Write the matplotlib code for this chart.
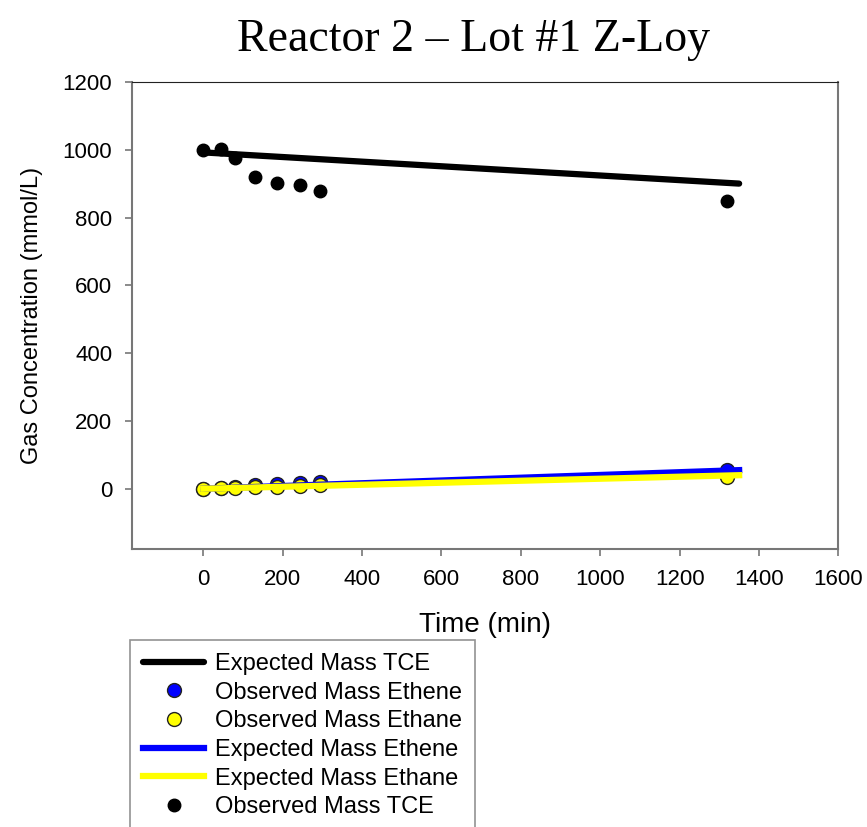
import numpy as np
import matplotlib.pyplot as plt

plt.rcParams['font.family'] = ['Liberation Sans', 'DejaVu Sans']

# Observed gas concentrations (mmol/L) vs time (min)
t_obs = [0, 45, 80, 130, 185, 245, 295, 1320]
tce_obs = [1000, 1003, 975, 920, 903, 895, 878, 848]
ethene_obs = [0, 3, 6, 10, 14, 17, 20, 55]
ethane_obs = [0, 1, 2, 4, 6, 8, 10, 35]

# Expected mass lines (start and end points)
t_exp = [0, 1350]
tce_exp = [992, 900]
ethene_exp = [0, 55]
ethane_exp = [0, 40]

fig = plt.figure(figsize=(8.67, 8.27), dpi=100)
ax = fig.add_axes([0.152, 0.336, 0.815, 0.565])

l1, = ax.plot(t_exp, tce_exp, color='black', lw=4.5, solid_capstyle='round')
s2, = ax.plot(t_obs, ethene_obs, 'o', ms=10, mfc='blue', mec='#222222', mew=1, ls='none')
s3, = ax.plot(t_obs, ethane_obs, 'o', ms=10, mfc='yellow', mec='#222222', mew=1, ls='none')
l4, = ax.plot(t_exp, ethene_exp, color='blue', lw=4.5)
l5, = ax.plot(t_exp, ethane_exp, color='yellow', lw=4.5)
s6, = ax.plot(t_obs, tce_obs, 'o', ms=9, color='black', ls='none')

ax.set_xlim(-180, 1600)
ax.set_ylim(-178, 1200)
ax.set_xticks(np.arange(0, 1601, 200))
ax.set_yticks(np.arange(0, 1201, 200))
ax.tick_params(labelsize=16, length=5, pad=9, color='#777777', width=1.2)
for side in ['left', 'right', 'bottom']:
    ax.spines[side].set_color('#777777')
    ax.spines[side].set_linewidth(1.5)
ax.spines['top'].set_color('#222222')

ax.set_xlabel('Time (min)', fontsize=20, labelpad=16)
ax.set_ylabel('Gas Concentration (mmol/L)', fontsize=17, labelpad=14)
ax.set_title('Reactor 2 \u2013 Lot #1 Z-Loy', fontsize=33, family='Liberation Serif',
             pad=22, x=0.483)

leg = fig.legend([l1, s2, s3, l4, l5, s6],
                 ['Expected Mass TCE', 'Observed Mass Ethene', 'Observed Mass Ethane',
                  'Expected Mass Ethene', 'Expected Mass Ethane', 'Observed Mass TCE'],
                 loc='upper left', bbox_to_anchor=(0.150, 0.226), fontsize=17,
                 frameon=True, fancybox=False, edgecolor='#777777', borderaxespad=0,
                 handlelength=2.6, handletextpad=0.45, labelspacing=0.28, borderpad=0.55)
leg.get_frame().set_linewidth(1.2)

fig.savefig('out.png', dpi=100)
